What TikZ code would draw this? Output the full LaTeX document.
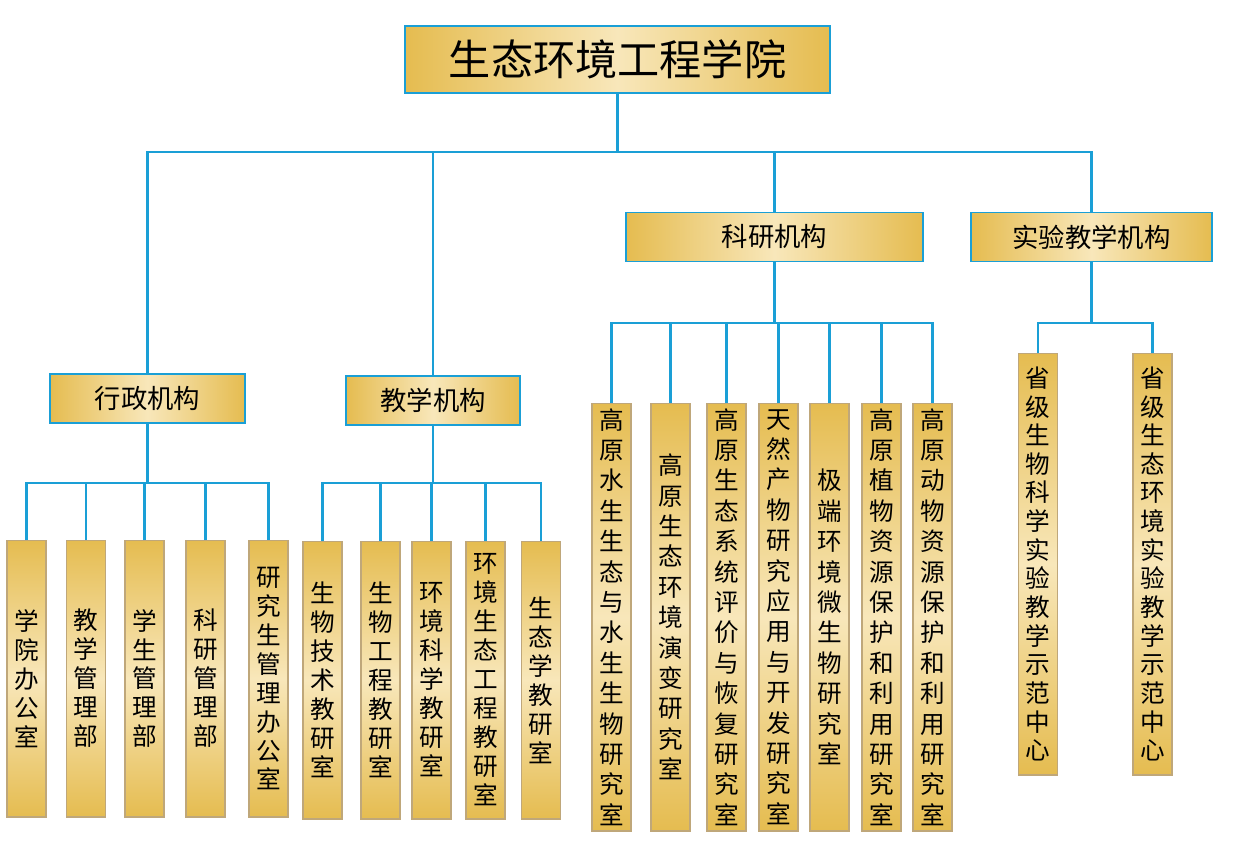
\documentclass[tikz,border=0pt]{standalone}
\usepackage{fontspec}
\setmainfont{Noto Sans CJK SC}
\XeTeXlinebreaklocale "zh"
\XeTeXlinebreakskip=0pt plus 1pt
\usetikzlibrary{positioning}

\definecolor{linecyan}{HTML}{1A9FD6}
\definecolor{gold}{HTML}{E5BC50}
\definecolor{goldlight}{HTML}{F8E7BA}
\definecolor{leafedge}{HTML}{BFA77A}

\tikzset{
  link/.style={draw=linecyan, line width=1.4pt},
  rootbox/.style={draw=linecyan, line width=1pt, left color=gold, right color=gold, middle color=goldlight,
    minimum width=8.5cm, minimum height=1.34cm, font=\fontsize{24pt}{28pt}\selectfont},
  unitbox/.style={draw=linecyan, line width=1pt, left color=gold, right color=gold, middle color=goldlight,
    minimum height=0.98cm, inner sep=0pt, font=\fontsize{15pt}{18pt}\selectfont},
  leafbox/.style={draw=leafedge, line width=0.6pt, top color=gold, bottom color=gold, middle color=goldlight,
    minimum width=0.78cm, inner sep=0pt, text width=0.6cm, align=center},
}

\begin{document}
\begin{tikzpicture}[x=0.02cm, y=-0.02cm]
  \useasboundingbox (0,0) rectangle (1239,849);

  % top level
  \node[rootbox] (school) at (617.5,59.5) {生态环境工程学院};
  \node[unitbox, minimum width=3.9cm] (admin) at (147.5,398.5) {行政机构};
  \node[unitbox, minimum width=3.48cm] (teach) at (433,400.5) {教学机构};
  \node[unitbox, minimum width=5.94cm] (research) at (774.5,237) {科研机构};
  \node[unitbox, minimum width=4.82cm] (lab) at (1091.5,237) {实验教学机构};

  \coordinate (hub) at (617.5,152);
  \draw[link] (school.south) -- (hub);
  \draw[link] (admin.north) |- (hub) -| (lab.north);
  \draw[link] (teach.north |- hub) -- (teach.north);
  \draw[link] (research.north |- hub) -- (research.north);

  % administration
  \foreach \n/\x/\t in {a1/26.5/学院办公室, a2/86/教学管理部, a3/144.5/学生管理部,
      a4/205.5/科研管理部, a5/268.5/研究生管理办公室}
    \node[leafbox, minimum height=5.54cm, font=\fontsize{14pt}{16.5pt}\selectfont] (\n) at (\x,678.5) {\t};
  \coordinate (adminbus) at (147.5,483);
  \draw[link] (admin.south) -- (adminbus);
  \draw[link] (a1.north) |- (adminbus) -| (a5.north);
  \foreach \n in {a2,a3,a4}
    \draw[link] (\n.north) -- (\n.north |- adminbus);

  % teaching
  \foreach \n/\x/\t in {b1/322.5/生物技术教研室, b2/380.5/生物工程教研室, b3/431.5/环境科学教研室,
      b4/485.5/环境生态工程教研室, b5/541/生态学教研室}
    \node[leafbox, minimum height=5.56cm, font=\fontsize{14pt}{16.5pt}\selectfont] (\n) at (\x,680) {\t};
  \coordinate (teachbus) at (433,483);
  \draw[link] (teach.south) -- (teachbus);
  \draw[link] (b1.north) |- (teachbus) -| (b5.north);
  \foreach \n in {b2,b3,b4}
    \draw[link] (\n.north) -- (\n.north |- teachbus);

  % research
  \foreach \n/\x/\t in {c1/611.5/高原水生生态与水生生物研究室, c2/670.5/高原生态环境演变研究室,
      c3/726.5/高原生态系统评价与恢复研究室, c4/778.5/天然产物研究应用与开发研究室,
      c5/829.5/极端环境微生物研究室, c6/881.5/高原植物资源保护和利用研究室,
      c7/932.5/高原动物资源保护和利用研究室}
    \node[leafbox, minimum height=8.56cm, font=\fontsize{14pt}{17.3pt}\selectfont] (\n) at (\x,617) {\t};
  \coordinate (researchbus) at (774.5,323);
  \draw[link] (research.south) -- (researchbus);
  \draw[link] (c1.north) |- (researchbus) -| (c7.north);
  \foreach \n in {c2,c3,c4,c5,c6}
    \draw[link] (\n.north) -- (\n.north |- researchbus);

  % lab teaching
  \foreach \n/\x/\t in {d1/1038/省级生物科学实验教学示范中心, d2/1152.5/省级生态环境实验教学示范中心}
    \node[leafbox, minimum height=8.44cm, font=\fontsize{14pt}{16.3pt}\selectfont] (\n) at (\x,564) {\t};
  \coordinate (labbus) at (1091.5,323);
  \draw[link] (lab.south) -- (labbus);
  \draw[link] (d1.north) |- (labbus) -| (d2.north);
\end{tikzpicture}
\end{document}
